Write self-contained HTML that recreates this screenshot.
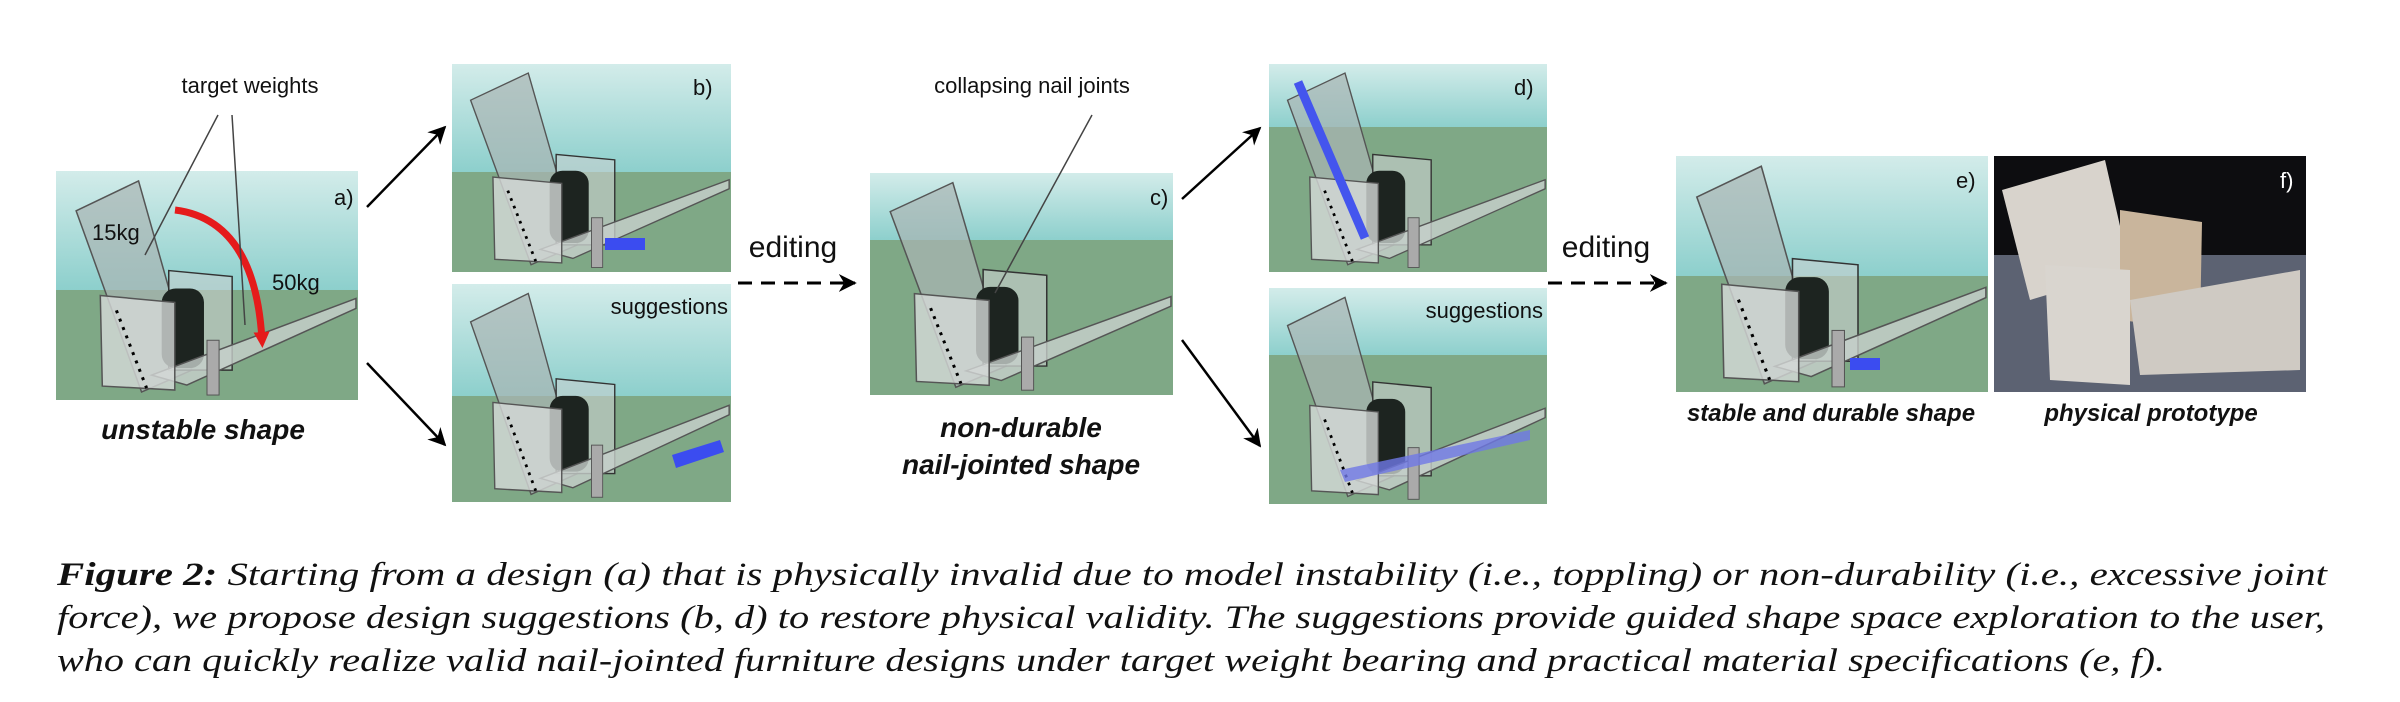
<!DOCTYPE html>
<html><head><meta charset="utf-8"><style>
html,body{margin:0;padding:0;background:#fff;width:2400px;height:702px;overflow:hidden}
svg{position:absolute;left:0;top:0}
.lab{font-family:"Liberation Sans",sans-serif;fill:#111}
.bi{font-family:"Liberation Sans",sans-serif;font-weight:bold;font-style:italic;fill:#111}
.cap{font-family:"Liberation Serif","Times New Roman",serif;font-style:italic;fill:#111}
</style></head><body>
<svg width="2400" height="702" viewBox="0 0 2400 702">
<defs>
<linearGradient id="sky" x1="0" y1="0" x2="0" y2="1"><stop offset="0" stop-color="#d3ecea"/><stop offset="1" stop-color="#8ccfcc"/></linearGradient>
<marker id="ah" viewBox="0 0 10 10" refX="9" refY="5" markerWidth="18" markerHeight="18" markerUnits="userSpaceOnUse" orient="auto"><path d="M0,0 L10,5 L0,10 L3,5 z" fill="#000"/></marker>
<marker id="ahr" viewBox="0 0 10 10" refX="5" refY="5" markerWidth="16" markerHeight="16" markerUnits="userSpaceOnUse" orient="auto"><path d="M0,0 L10,5 L0,10 z" fill="#e51b1b"/></marker>
<symbol id="chair" viewBox="0 0 300 230" preserveAspectRatio="none">
<polygon points="20,40 82,10 135,200 85,222" fill="#a9b5b4" fill-opacity="0.7" stroke="#555" stroke-width="1.5"/>
<polygon points="112,100 175,106 175,200 112,200" fill="#c9d1d0" fill-opacity="0.6" stroke="#333" stroke-width="1.5"/>
<rect x="105" y="118" width="42" height="80" rx="14" fill="#1d2420"/>
<polygon points="95,205 298,128 298,138 130,215" fill="#c8cfcc" fill-opacity="0.8" stroke="#555" stroke-width="1.5"/>
<polygon points="44,125 118,132 118,220 46,216" fill="#d6dad8" fill-opacity="0.8" stroke="#555" stroke-width="1.5"/>
<rect x="150" y="170" width="12" height="55" fill="#aaa" stroke="#555"/>
<line x1="60" y1="140" x2="90" y2="218" stroke="#000" stroke-width="3" stroke-dasharray="3,6"/>
</symbol>
</defs>

<g>
<rect x="56" y="171" width="302" height="120" fill="url(#sky)"/>
<rect x="56" y="290" width="302" height="110" fill="#7fa886"/>
<use href="#chair" x="56" y="171" width="302" height="229"/>
<path d="M175,210 Q255,220 262,340" stroke="#e51b1b" stroke-width="7" fill="none" marker-end="url(#ahr)"/>
<text class="lab" x="334" y="205" font-size="22">a)</text>
<text class="lab" x="92" y="240" font-size="22">15kg</text>
<text class="lab" x="272" y="290" font-size="22">50kg</text>
<line x1="218" y1="115" x2="145" y2="255" stroke="#444" stroke-width="1.5"/>
<line x1="232" y1="115" x2="245" y2="325" stroke="#444" stroke-width="1.5"/>
<text class="lab" x="250" y="93" font-size="22" text-anchor="middle">target weights</text>
<text class="bi" x="203" y="439" font-size="28" text-anchor="middle">unstable shape</text>
</g>

<g>
<rect x="452" y="64" width="279" height="109" fill="url(#sky)"/>
<rect x="452" y="172" width="279" height="100" fill="#7fa886"/>
<use href="#chair" x="452" y="64" width="279" height="208"/>
<rect x="605" y="238" width="40" height="12" fill="#3b4cf0"/>
<text class="lab" x="693" y="95" font-size="22">b)</text>
</g>
<g>
<rect x="452" y="284" width="279" height="113" fill="url(#sky)"/>
<rect x="452" y="396" width="279" height="106" fill="#7fa886"/>
<use href="#chair" x="452" y="284" width="279" height="218"/>
<polygon points="672,455 720,440 724,452 676,468" fill="#3b4cf0"/>
<text class="lab" x="728" y="314" font-size="22" text-anchor="end">suggestions</text>
</g>
<line x1="367" y1="207" x2="445" y2="127" stroke="#000" stroke-width="2.5" marker-end="url(#ah)"/>
<line x1="367" y1="363" x2="445" y2="445" stroke="#000" stroke-width="2.5" marker-end="url(#ah)"/>
<text class="lab" x="793" y="257" font-size="30" text-anchor="middle">editing</text>
<line x1="738" y1="283" x2="855" y2="283" stroke="#000" stroke-width="3" stroke-dasharray="14,9" marker-end="url(#ah)"/>

<g>
<rect x="870" y="173" width="303" height="68" fill="url(#sky)"/>
<rect x="870" y="240" width="303" height="155" fill="#7fa886"/>
<use href="#chair" x="870" y="173" width="303" height="222"/>
<text class="lab" x="1150" y="205" font-size="22">c)</text>
<line x1="1092" y1="115" x2="995" y2="293" stroke="#444" stroke-width="1.5"/>
<text class="lab" x="1032" y="93" font-size="22" text-anchor="middle">collapsing nail joints</text>
<text class="bi" x="1021" y="437" font-size="28" text-anchor="middle">non-durable</text>
<text class="bi" x="1021" y="474" font-size="28" text-anchor="middle">nail-jointed shape</text>
</g>
<line x1="1182" y1="199" x2="1260" y2="128" stroke="#000" stroke-width="2.5" marker-end="url(#ah)"/>
<line x1="1182" y1="340" x2="1260" y2="446" stroke="#000" stroke-width="2.5" marker-end="url(#ah)"/>

<g>
<rect x="1269" y="64" width="278" height="64" fill="url(#sky)"/>
<rect x="1269" y="127" width="278" height="145" fill="#7fa886"/>
<use href="#chair" x="1269" y="64" width="278" height="208"/>
<line x1="1298" y1="82" x2="1365" y2="238" stroke="#4455ee" stroke-width="9"/>
<text class="lab" x="1514" y="95" font-size="22">d)</text>
</g>
<g>
<rect x="1269" y="288" width="278" height="68" fill="url(#sky)"/>
<rect x="1269" y="355" width="278" height="149" fill="#7fa886"/>
<use href="#chair" x="1269" y="288" width="278" height="216"/>
<polygon points="1340,470 1530,430 1530,440 1345,482" fill="#6f78e6" fill-opacity="0.8"/>
<text class="lab" x="1543" y="318" font-size="22" text-anchor="end">suggestions</text>
</g>
<text class="lab" x="1606" y="257" font-size="30" text-anchor="middle">editing</text>
<line x1="1548" y1="283" x2="1666" y2="283" stroke="#000" stroke-width="3" stroke-dasharray="14,9" marker-end="url(#ah)"/>

<g>
<rect x="1676" y="156" width="312" height="121" fill="url(#sky)"/>
<rect x="1676" y="276" width="312" height="116" fill="#7fa886"/>
<use href="#chair" x="1676" y="156" width="312" height="236"/>
<rect x="1850" y="358" width="30" height="12" fill="#3b4cf0"/>
<text class="lab" x="1956" y="188" font-size="22">e)</text>
<text class="bi" x="1831" y="421" font-size="24" text-anchor="middle">stable and durable shape</text>
</g>

<g>
<rect x="1994" y="156" width="312" height="236" fill="#0d0d10"/>
<rect x="1994" y="255" width="312" height="137" fill="#5c6272"/>
<polygon points="2002,190 2105,160 2130,270 2030,300" fill="#d8d3cc"/>
<polygon points="2120,210 2202,222 2200,330 2120,320" fill="#c9b59c"/>
<polygon points="2045,265 2130,270 2130,385 2050,380" fill="#d9d5cf"/>
<polygon points="2130,300 2300,270 2300,370 2140,375" fill="#cfcac3"/>
<text class="lab" x="2280" y="188" font-size="22" style="fill:#fff">f)</text>
<text class="bi" x="2151" y="421" font-size="24" text-anchor="middle">physical prototype</text>
</g>

<g>
<text class="cap" x="57" y="585" font-size="33" textLength="2270" lengthAdjust="spacingAndGlyphs"><tspan font-weight="bold">Figure 2:</tspan> Starting from a design (a) that is physically invalid due to model instability (i.e., toppling) or non-durability (i.e., excessive joint</text>
<text class="cap" x="57" y="628" font-size="33" textLength="2268" lengthAdjust="spacingAndGlyphs">force), we propose design suggestions (b, d) to restore physical validity. The suggestions provide guided shape space exploration to the user,</text>
<text class="cap" x="57" y="671" font-size="33" textLength="2108" lengthAdjust="spacingAndGlyphs">who can quickly realize valid nail-jointed furniture designs under target weight bearing and practical material specifications (e, f).</text>
</g>
</svg>
</body></html>
